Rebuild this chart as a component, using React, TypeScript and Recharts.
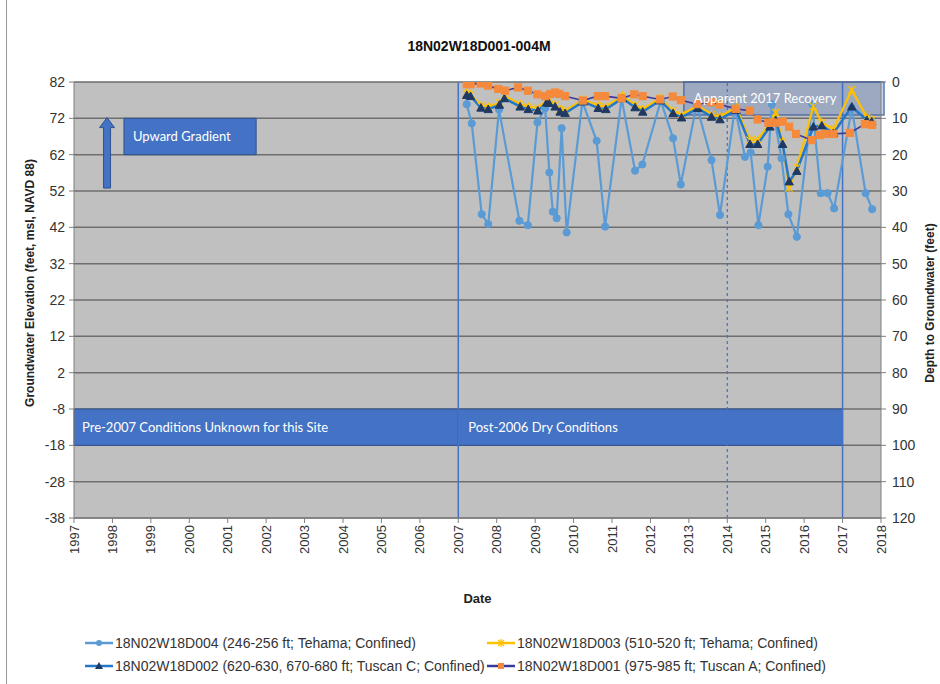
import React from 'react';
import {
  ComposedChart,
  Line,
  XAxis,
  YAxis,
  CartesianGrid,
  ReferenceLine,
  ReferenceArea,
} from 'recharts';

// ---------- axis ticks ----------
const yearTicks = [1997, 1998, 1999, 2000, 2001, 2002, 2003, 2004, 2005, 2006, 2007, 2008, 2009, 2010, 2011, 2012, 2013, 2014, 2015, 2016, 2017, 2018];
const elevTicks = [82, 72, 62, 52, 42, 32, 22, 12, 2, -8, -18, -28, -38];
const depthTicks = [0, 10, 20, 30, 40, 50, 60, 70, 80, 90, 100, 110, 120];

// ---------- series: 18N02W18D004 ----------
const d004Dates = [2007.22, 2007.35, 2007.61, 2007.78, 2008.06, 2008.59, 2008.81, 2009.06, 2009.26, 2009.37, 2009.46, 2009.56, 2009.69, 2009.82, 2010.23, 2010.6, 2010.82, 2011.25, 2011.6, 2011.79, 2012.27, 2012.59, 2012.79, 2013.2, 2013.59, 2013.81, 2014.2, 2014.46, 2014.61, 2014.81, 2015.05, 2015.16, 2015.41, 2015.59, 2015.81, 2016.21, 2016.43, 2016.61, 2016.78, 2017.24, 2017.6, 2017.77];
const d004Elev = [75.9, 70.6, 45.6, 42.9, 74.4, 43.8, 42.6, 70.9, 74.8, 57.1, 46.3, 44.5, 69.3, 40.6, 76.6, 65.8, 42.2, 77.5, 57.6, 59.3, 76.8, 66.5, 53.8, 75.7, 60.5, 45.4, 75.0, 61.4, 62.6, 42.6, 58.7, 75.9, 61.0, 45.6, 39.4, 75.9, 51.4, 51.4, 47.2, 74.8, 51.4, 47.0];

// ---------- series: 18N02W18D003 / D002 share sampling dates ----------
const d002Dates = [2007.22, 2007.32, 2007.59, 2007.78, 2008.07, 2008.2, 2008.61, 2008.82, 2009.07, 2009.3, 2009.36, 2009.52, 2009.65, 2009.78, 2010.25, 2010.64, 2010.84, 2011.27, 2011.6, 2011.8, 2012.25, 2012.59, 2012.81, 2013.23, 2013.59, 2013.81, 2014.23, 2014.59, 2014.79, 2015.11, 2015.26, 2015.44, 2015.61, 2015.81, 2016.24, 2016.46, 2016.76, 2017.24, 2017.63, 2017.76];
const d003Elev = [78.9, 78.6, 75.5, 75.2, 76.3, 78.2, 75.9, 75.2, 74.8, 77.0, 76.8, 75.8, 74.5, 74.1, 77.2, 75.5, 75.2, 78.2, 75.7, 74.5, 77.6, 74.1, 73.0, 75.5, 73.1, 72.5, 75.0, 66.0, 66.2, 70.5, 73.6, 65.5, 52.8, 58.5, 75.3, 70.8, 69.0, 79.8, 72.3, 71.6];
const d002Elev = [78.4, 78.1, 74.9, 74.5, 75.7, 77.5, 75.2, 74.5, 74.1, 76.3, 76.2, 75.2, 73.8, 73.4, 76.6, 74.8, 74.5, 77.5, 75.0, 73.8, 76.9, 73.4, 72.2, 74.8, 72.4, 71.7, 74.3, 64.9, 64.9, 69.7, 71.5, 64.9, 54.6, 57.5, 69.7, 70.0, 67.9, 75.2, 71.5, 71.1];

// ---------- series: 18N02W18D001 ----------
const d001Dates = [2007.22, 2007.32, 2007.58, 2007.78, 2008.04, 2008.22, 2008.56, 2008.81, 2009.06, 2009.26, 2009.39, 2009.52, 2009.63, 2009.78, 2010.24, 2010.63, 2010.82, 2011.25, 2011.58, 2011.8, 2012.25, 2012.58, 2012.79, 2013.22, 2013.57, 2013.81, 2014.23, 2014.59, 2014.79, 2015.07, 2015.16, 2015.27, 2015.44, 2015.61, 2015.79, 2016.2, 2016.41, 2016.54, 2016.76, 2017.19, 2017.58, 2017.77];
const d001Elev = [81.4, 81.4, 81.6, 81.0, 80.1, 79.6, 80.5, 79.6, 78.6, 78.1, 78.7, 79.1, 78.7, 78.1, 76.9, 78.1, 78.1, 77.5, 78.6, 78.1, 77.2, 78.0, 77.0, 75.9, 76.4, 75.8, 74.6, 74.1, 71.7, 70.8, 70.8, 70.8, 71.1, 69.7, 67.7, 66.0, 67.4, 67.7, 67.7, 68.0, 70.4, 70.2];

const seriesNames = [
  '18N02W18D004 (246-256 ft; Tehama; Confined)',
  '18N02W18D003 (510-520 ft; Tehama; Confined)',
  '18N02W18D002 (620-630, 670-680 ft; Tuscan C; Confined)',
  '18N02W18D001 (975-985 ft; Tuscan A; Confined)',
];

const toRows = (dates: number[], vals: number[]) => dates.map((t, i) => ({ t, v: vals[i] }));
const d004 = toRows(d004Dates, d004Elev);
const d003 = toRows(d002Dates, d003Elev);
const d002 = toRows(d002Dates, d002Elev);
const d001 = toRows(d001Dates, d001Elev);

const FONT = '"Liberation Sans", Arial, sans-serif';
const BOXFONT = 'Lato, "Open Sans", sans-serif';
const C004 = '#5B9BD5';
const C003 = '#FFC000';
const C002 = '#2478C8';
const C002M = '#1F3864';
const C001 = '#3A3A98';
const C001M = '#F58A3C';
const BOX = '#4472C4';
const BOXEDGE = '#2F528F';

const YearTick = (props: any) => {
  const { x, y, payload } = props;
  return (
    <text
      x={x}
      y={y}
      transform={`rotate(-90 ${x} ${y})`}
      textAnchor="end"
      dy={4.5}
      fontSize={13}
      fontFamily={FONT}
      fill="#333"
    >
      {payload.value}
    </text>
  );
};

const CircleDot = (props: any) => {
  const { cx, cy, index } = props;
  if (cx == null || cy == null) return <g key={`c${index}`} />;
  return <circle key={`c${index}`} cx={cx} cy={cy} r={3.6} fill={C004} stroke={C004} />;
};

const XDot = (props: any) => {
  const { cx, cy, index } = props;
  if (cx == null || cy == null) return <g key={`x${index}`} />;
  const s = 3.5;
  return (
    <g key={`x${index}`} stroke={C003} strokeWidth={1.2}>
      <line x1={cx - s} y1={cy - s} x2={cx + s} y2={cy + s} />
      <line x1={cx - s} y1={cy + s} x2={cx + s} y2={cy - s} />
      <line x1={cx} y1={cy - s - 1} x2={cx} y2={cy + s + 1} />
    </g>
  );
};

const TriDot = (props: any) => {
  const { cx, cy, index } = props;
  if (cx == null || cy == null) return <g key={`t${index}`} />;
  const s = 4.2;
  return (
    <polygon
      key={`t${index}`}
      points={`${cx},${cy - s} ${cx + s},${cy + s * 0.8} ${cx - s},${cy + s * 0.8}`}
      fill={C002M}
      stroke={C002M}
    />
  );
};

const SqDot = (props: any) => {
  const { cx, cy, index } = props;
  if (cx == null || cy == null) return <g key={`s${index}`} />;
  const s = 3.6;
  return <rect key={`s${index}`} x={cx - s} y={cy - s} width={s * 2} height={s * 2} fill={C001M} stroke={C001M} />;
};

const ArrowShape = (props: any) => {
  const { x1, y1, x2, y2 } = props;
  const x = (x1 + x2) / 2;
  const top = Math.min(y1, y2);
  const bottom = Math.max(y1, y2);
  const hw = 3.5;
  const headW = 7.5;
  const headL = 10;
  const pts = [
    [x - hw, bottom],
    [x - hw, top + headL],
    [x - headW, top + headL],
    [x, top],
    [x + headW, top + headL],
    [x + hw, top + headL],
    [x + hw, bottom],
  ]
    .map((p) => p.join(','))
    .join(' ');
  return <polygon points={pts} fill={BOX} stroke={BOXEDGE} strokeWidth={1} />;
};

const LegendIcon = ({ kind }: { kind: number }) => {
  const cx = 14;
  const cy = 6;
  let line = C004;
  let marker: React.ReactNode = null;
  if (kind === 0) {
    line = C004;
    marker = <circle cx={cx} cy={cy} r={3} fill={C004} />;
  } else if (kind === 1) {
    line = C003;
    marker = (
      <g stroke={C003} strokeWidth={1.2}>
        <line x1={cx - 3} y1={cy - 3} x2={cx + 3} y2={cy + 3} />
        <line x1={cx - 3} y1={cy + 3} x2={cx + 3} y2={cy - 3} />
        <line x1={cx} y1={cy - 4} x2={cx} y2={cy + 4} />
      </g>
    );
  } else if (kind === 2) {
    line = C002;
    marker = <polygon points={`${cx},${cy - 4} ${cx + 4},${cy + 3} ${cx - 4},${cy + 3}`} fill={C002M} />;
  } else {
    line = C001;
    marker = <rect x={cx - 3} y={cy - 3} width={6} height={6} fill={C001M} />;
  }
  return (
    <svg width={28} height={12} style={{ display: 'block' }}>
      <line x1={0} y1={cy} x2={28} y2={cy} stroke={line} strokeWidth={2.5} />
      {marker}
    </svg>
  );
};

const legendPos = [
  { left: 85, top: 636 },
  { left: 487, top: 636 },
  { left: 85, top: 659 },
  { left: 487, top: 659 },
];

export default function App() {
  return (
    <div style={{ position: 'absolute', left: 0, top: 0, width: 940, height: 684, background: '#fff', overflow: 'hidden' }}>
      <div style={{ position: 'absolute', left: 6, top: 0, width: 1, height: 684, background: '#9a9a9a' }} />
      <ComposedChart
        width={940}
        height={684}
        margin={{ top: 82, right: 15, bottom: 116, left: 30 }}
      >
        <CartesianGrid
          yAxisId="left"
          vertical={false}
          stroke="#6e6e6e"
          strokeWidth={1.5}
          fill="#C0C0C0"
          fillOpacity={1}
        />
        <XAxis
          type="number"
          dataKey="t"
          domain={[1997, 2018]}
          ticks={yearTicks}
          interval={0}
          allowDataOverflow
          height={50}
          stroke="#7f7f7f"
          tickSize={5}
          tick={<YearTick />}
          label={{
            value: 'Date',
            position: 'insideBottom',
            offset: -35,
            style: { fontFamily: FONT, fontSize: 13, fontWeight: 700, fill: '#222' },
          }}
        />
        <YAxis
          yAxisId="left"
          type="number"
          domain={[-38, 82]}
          ticks={elevTicks}
          interval={0}
          allowDataOverflow
          width={44}
          stroke="#7f7f7f"
          tickSize={5}
          tickMargin={4}
          tick={{ fontSize: 14, fontFamily: FONT, fill: '#333' }}
          label={{
            content: (p: any) => {
              const vb = p.viewBox || {};
              const x = vb.x;
              const y = 283;
              return (
                <text
                  x={x}
                  y={y}
                  transform={`rotate(-90 ${x} ${y})`}
                  textAnchor="middle"
                  dy={4}
                  fontSize={12}
                  fontWeight={700}
                  fontFamily={FONT}
                  fill="#222"
                >
                  Groundwater Elevation (feet, msl, NAVD 88)
                </text>
              );
            },
          }}
        />
        <YAxis
          yAxisId="right"
          orientation="right"
          type="number"
          domain={[0, 120]}
          reversed
          ticks={depthTicks}
          interval={0}
          allowDataOverflow
          width={44}
          stroke="#7f7f7f"
          tickSize={5}
          tickMargin={6}
          tick={{ fontSize: 14, fontFamily: FONT, fill: '#333' }}
          label={{
            content: (p: any) => {
              const vb = p.viewBox || {};
              const x = vb.x + vb.width + 5;
              const y = 303;
              return (
                <text
                  x={x}
                  y={y}
                  transform={`rotate(-90 ${x} ${y})`}
                  textAnchor="middle"
                  dy={4}
                  fontSize={12}
                  fontWeight={700}
                  fontFamily={FONT}
                  fill="#222"
                >
                  Depth to Groundwater (feet)
                </text>
              );
            },
          }}
        />

        <ReferenceArea
          yAxisId="left"
          x1={1997}
          x2={2007}
          y1={-18}
          y2={-8}
          fill={BOX}
          fillOpacity={1}
          stroke={BOXEDGE}
          strokeWidth={1}
          label={{ value: 'Pre-2007 Conditions Unknown for this Site', position: 'insideLeft', offset: 8, fill: '#fff', fontSize: 13, fontFamily: BOXFONT }}
        />
        <ReferenceArea
          yAxisId="left"
          x1={2007}
          x2={2017}
          y1={-18}
          y2={-8}
          fill={BOX}
          fillOpacity={1}
          stroke={BOXEDGE}
          strokeWidth={1}
          label={{ value: 'Post-2006 Dry Conditions', position: 'insideLeft', offset: 10, fill: '#fff', fontSize: 13, fontFamily: BOXFONT }}
        />
        <ReferenceArea
          yAxisId="left"
          x1={1998.3}
          x2={2001.74}
          y1={62}
          y2={72}
          fill={BOX}
          fillOpacity={1}
          stroke={BOXEDGE}
          strokeWidth={1}
          label={{ value: 'Upward Gradient', position: 'insideLeft', offset: 9, fill: '#fff', fontSize: 13, fontFamily: BOXFONT }}
        />
        <ReferenceLine
          yAxisId="left"
          segment={[{ x: 1997.86, y: 52.8 }, { x: 1997.86, y: 72.2 }]}
          shape={<ArrowShape />}
        />

        <ReferenceLine yAxisId="left" x={2007} stroke={BOX} strokeWidth={1.5} />
        <ReferenceLine yAxisId="left" x={2014} stroke={BOX} strokeWidth={1.2} strokeDasharray="3 3" />
        <ReferenceLine yAxisId="left" x={2017} stroke={BOX} strokeWidth={1.5} />

        <Line
          yAxisId="left"
          data={d004}
          dataKey="v"
          name={seriesNames[0]}
          type="linear"
          stroke={C004}
          strokeWidth={2.2}
          dot={<CircleDot />}
          activeDot={false}
          isAnimationActive={false}
        />
        <Line
          yAxisId="left"
          data={d003}
          dataKey="v"
          name={seriesNames[1]}
          type="linear"
          stroke={C003}
          strokeWidth={2.2}
          dot={<XDot />}
          activeDot={false}
          isAnimationActive={false}
        />
        <Line
          yAxisId="left"
          data={d002}
          dataKey="v"
          name={seriesNames[2]}
          type="linear"
          stroke={C002}
          strokeWidth={2.5}
          dot={<TriDot />}
          activeDot={false}
          isAnimationActive={false}
        />
        <Line
          yAxisId="left"
          data={d001}
          dataKey="v"
          name={seriesNames[3]}
          type="linear"
          stroke={C001}
          strokeWidth={1.6}
          dot={<SqDot />}
          activeDot={false}
          isAnimationActive={false}
        />

        <ReferenceArea
          yAxisId="left"
          x1={2012.87}
          x2={2018.08}
          y1={72.9}
          y2={82}
          ifOverflow="visible"
          fill="#5a7fc0"
          fillOpacity={0.35}
          stroke="#3f5f9f"
          strokeOpacity={0.8}
          strokeWidth={1.5}
          label={{ value: 'Apparent 2017 Recovery', position: 'insideLeft', offset: 10, fill: '#fff', fontSize: 13, fontFamily: BOXFONT }}
        />
        <text x={479} y={51} textAnchor="middle" fontFamily={FONT} fontSize={14} fontWeight={700} fill="#111">
          18N02W18D001-004M
        </text>
      </ComposedChart>

      {seriesNames.map((name, i) => (
        <div
          key={name}
          style={{
            position: 'absolute',
            left: legendPos[i].left,
            top: legendPos[i].top,
            display: 'flex',
            alignItems: 'center',
            fontFamily: FONT,
            fontSize: 14,
            color: '#333',
            whiteSpace: 'nowrap',
            lineHeight: '14px',
          }}
        >
          <LegendIcon kind={i} />
          <span style={{ marginLeft: 2 }}>{name}</span>
        </div>
      ))}
    </div>
  );
}
